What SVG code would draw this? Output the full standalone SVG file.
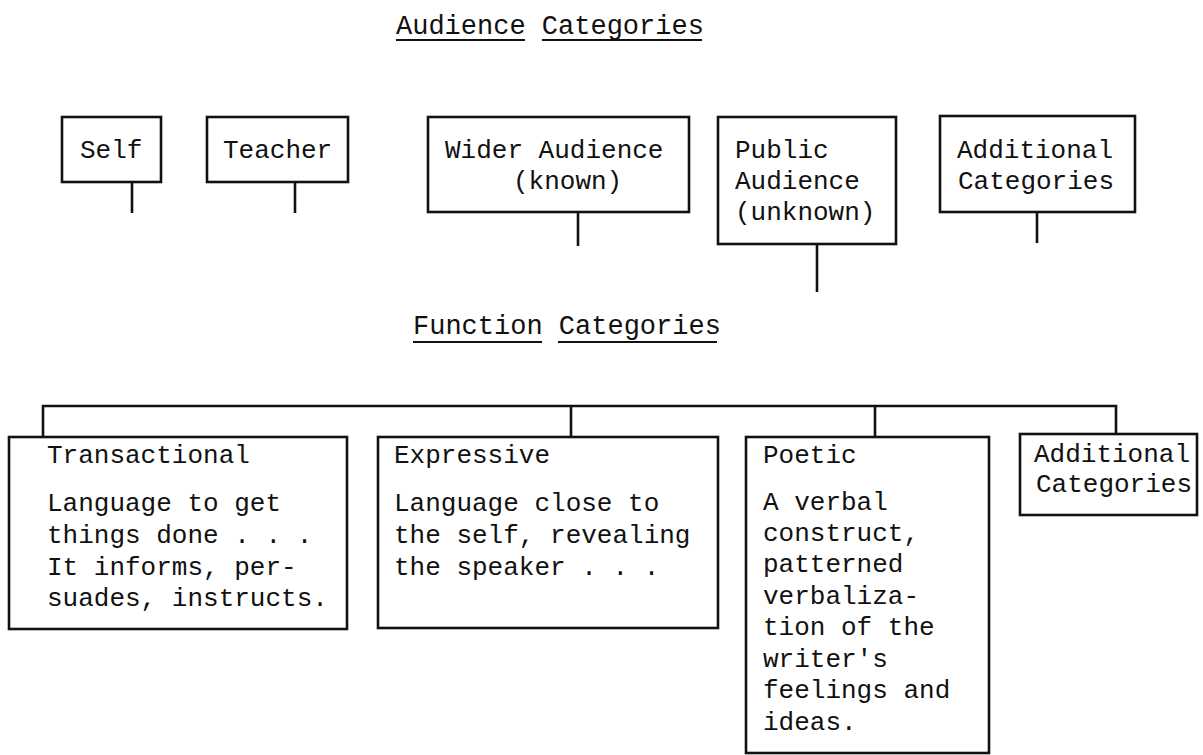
<svg xmlns="http://www.w3.org/2000/svg" width="1203" height="755" viewBox="0 0 1203 755">
<style>
text{font-family:"Liberation Mono","DejaVu Sans Mono",monospace;font-size:26px;fill:#111}
.t{font-size:27px}
.box{fill:none;stroke:#111;stroke-width:2.6}
.ln{fill:none;stroke:#111;stroke-width:2.6}
.ul{stroke:#111;stroke-width:2.2}
</style>
<rect width="1203" height="755" fill="#fff"/>
<g id="title-audience">
<text class="t" x="396" y="34">Audience Categories</text>
<line class="ul" x1="396" y1="40" x2="525" y2="40"/>
<line class="ul" x1="542" y1="40" x2="702" y2="40"/>
</g>
<g id="title-function">
<text class="t" x="413" y="334">Function Categories</text>
<line class="ul" x1="413" y1="342" x2="542" y2="342"/>
<line class="ul" x1="558" y1="342" x2="717" y2="342"/>
</g>
<g id="connectors">
<line class="ln" x1="132" y1="182" x2="132" y2="213"/>
<line class="ln" x1="295" y1="182" x2="295" y2="213"/>
<line class="ln" x1="578" y1="212" x2="578" y2="246"/>
<line class="ln" x1="817" y1="244" x2="817" y2="292"/>
<line class="ln" x1="1037" y1="212" x2="1037" y2="243"/>
<polyline class="ln" points="43,437 43,406 1116,406 1116,434"/>
<line class="ln" x1="571" y1="406" x2="571" y2="437"/>
<line class="ln" x1="875" y1="406" x2="875" y2="437"/>
</g>
<g id="self">
<rect class="box" x="62" y="117" width="99" height="65"/>
<text x="80" y="158">Self</text>
</g>
<g id="teacher">
<rect class="box" x="207" y="117" width="141" height="65"/>
<text x="223" y="158">Teacher</text>
</g>
<g id="wider-audience">
<rect class="box" x="428" y="117" width="261" height="95"/>
<text x="445" y="158">Wider Audience</text>
<text x="513" y="189">(known)</text>
</g>
<g id="public-audience">
<rect class="box" x="718" y="117" width="178" height="127"/>
<text x="735" y="158">Public</text>
<text x="735" y="189">Audience</text>
<text x="735" y="220">(unknown)</text>
</g>
<g id="additional-audience">
<rect class="box" x="940" y="116" width="195" height="96"/>
<text x="957" y="158">Additional</text>
<text x="958" y="189">Categories</text>
</g>
<g id="transactional">
<rect class="box" x="9" y="437" width="338" height="192"/>
<text x="47" y="463">Transactional</text>
<text x="47" y="511">Language to get</text>
<text x="47" y="543">things done . . .</text>
<text x="47" y="575">It informs, per-</text>
<text x="47" y="606">suades, instructs.</text>
</g>
<g id="expressive">
<rect class="box" x="378" y="437" width="340" height="191"/>
<text x="394" y="463">Expressive</text>
<text x="394" y="511">Language close to</text>
<text x="394" y="543">the self, revealing</text>
<text x="394" y="575">the speaker . . .</text>
</g>
<g id="poetic">
<rect class="box" x="746" y="437" width="243" height="316"/>
<text x="763" y="463">Poetic</text>
<text x="763" y="510">A verbal</text>
<text x="763" y="541">construct,</text>
<text x="763" y="572">patterned</text>
<text x="763" y="604">verbaliza-</text>
<text x="763" y="635">tion of the</text>
<text x="763" y="667">writer's</text>
<text x="763" y="698">feelings and</text>
<text x="763" y="730">ideas.</text>
</g>
<g id="additional-function">
<rect class="box" x="1020" y="434" width="177" height="81"/>
<text x="1034" y="462">Additional</text>
<text x="1036" y="492">Categories</text>
</g>
</svg>
